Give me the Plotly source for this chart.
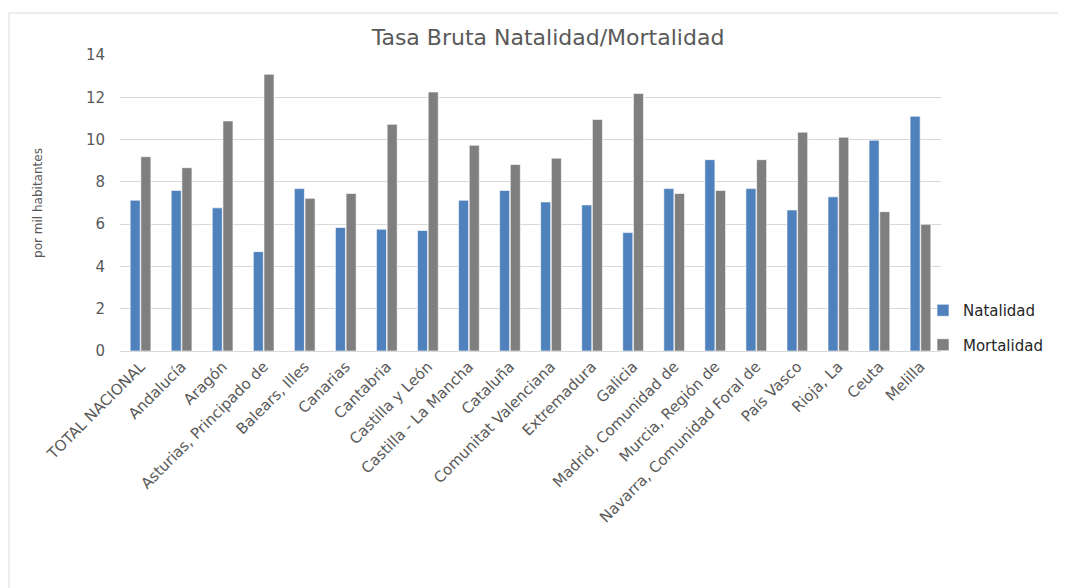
import plotly.graph_objects as go

categories = ["TOTAL NACIONAL", "Andalucía", "Aragón", "Asturias, Principado de",
              "Balears, Illes", "Canarias", "Cantabria", "Castilla y León",
              "Castilla - La Mancha", "Cataluña", "Comunitat Valenciana", "Extremadura",
              "Galicia", "Madrid, Comunidad de", "Murcia, Región de",
              "Navarra, Comunidad Foral de", "País Vasco", "Rioja, La", "Ceuta", "Melilla"]
natalidad = [7.13, 7.59, 6.77, 4.70, 7.68, 5.84, 5.76, 5.70, 7.13, 7.59,
             7.05, 6.91, 5.60, 7.68, 9.05, 7.68, 6.67, 7.29, 9.97, 11.10]
mortalidad = [9.19, 8.67, 10.88, 13.09, 7.22, 7.45, 10.72, 12.25, 9.73, 8.82,
              9.12, 10.95, 12.18, 7.45, 7.59, 9.05, 10.35, 10.11, 6.59, 5.99]
y_ticks = [0, 2, 4, 6, 8, 10, 12, 14]

FONT = "DejaVu Sans"
W, H = 1058, 580
L, R, T, B = 112, 125, 47, 237
PW, PH = W - L - R, H - T - B

fig = go.Figure()
fig.add_trace(go.Bar(x=categories, y=natalidad, name="Natalidad", legendgroup="a",
                     marker=dict(color="#4F81BD", line=dict(color="white", width=0.6))))
fig.add_trace(go.Bar(x=categories, y=mortalidad, name="Mortalidad", legendgroup="b",
                     marker=dict(color="#7F7F7F", line=dict(color="white", width=0.6))))

fig.update_layout(
    width=W, height=H,
    margin=dict(l=L, r=R, t=T, b=B),
    paper_bgcolor="white", plot_bgcolor="white",
    font=dict(family=FONT, color="#595959"),
    title=dict(text="Tasa Bruta Natalidad/Mortalidad", x=540 / W, xanchor="center",
               y=1 - 29 / H, yanchor="middle",
               font=dict(family=FONT, size=22, color="#595959")),
    barmode="group", bargap=0.48, bargroupgap=0.06,
    showlegend=True,
    legend=dict(x=(915 - L) / PW, xanchor="left", y=(T + PH - 286) / PH, yanchor="top",
                font=dict(family=FONT, size=15, color="#262626"),
                traceorder="grouped", tracegroupgap=12,
                bgcolor="rgba(0,0,0,0)"),
    xaxis=dict(tickangle=-45, tickfont=dict(size=15, color="#595959"),
               showgrid=False, showline=True, linecolor="#D9D9D9", linewidth=1,
               ticks=""),
    yaxis=dict(range=[0, 14], tickvals=y_ticks, tickfont=dict(size=15, color="#595959"),
               showgrid=True, gridcolor="#D9D9D9", gridwidth=1, zeroline=False,
               showline=False, ticklabelstandoff=14,
               title=dict(text="por mil habitantes", font=dict(size=12, color="#595959"),
                          standoff=40)),
)

fig.add_shape(type="rect", xref="paper", yref="paper",
              x0=(1 - L) / PW, x1=1.3, y0=-1.0, y1=1 + (T - 5) / PH,
              line=dict(color="#D9D9D9", width=1), fillcolor="rgba(0,0,0,0)", layer="below")

fig.write_html("out.html")
